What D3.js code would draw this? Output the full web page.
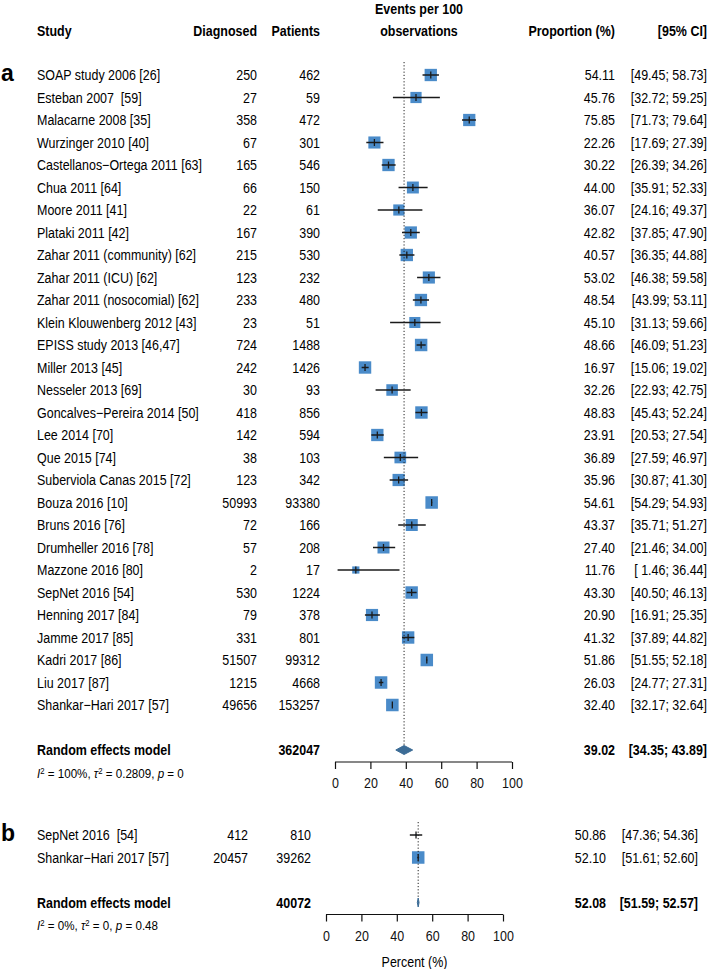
<!DOCTYPE html>
<html>
<head>
<meta charset="utf-8">
<script src="https://cdn.jsdelivr.net/npm/d3@7"></script>
<style>
  body { margin: 0; background: #fff; }
  svg { display: block; font-family: "Liberation Sans", Arial, sans-serif; }
</style>
</head>
<body>
<svg></svg>
<script>
var width = 709;
var height = 969;

// panel a data
var studiesA = ["SOAP study 2006 [26]", "Esteban 2007  [59]", "Malacarne 2008 [35]", "Wurzinger 2010 [40]",
  "Castellanos\u2212Ortega 2011 [63]", "Chua 2011 [64]", "Moore 2011 [41]", "Plataki 2011 [42]",
  "Zahar 2011 (community) [62]", "Zahar 2011 (ICU) [62]", "Zahar 2011 (nosocomial) [62]",
  "Klein Klouwenberg 2012 [43]", "EPISS study 2013 [46,47]", "Miller 2013 [45]", "Nesseler 2013 [69]",
  "Goncalves\u2212Pereira 2014 [50]", "Lee 2014 [70]", "Que 2015 [74]", "Suberviola Canas 2015 [72]",
  "Bouza 2016 [10]", "Bruns 2016 [76]", "Drumheller 2016 [78]", "Mazzone 2016 [80]", "SepNet 2016 [54]",
  "Henning 2017 [84]", "Jamme 2017 [85]", "Kadri 2017 [86]", "Liu 2017 [87]", "Shankar\u2212Hari 2017 [57]"];
var diagnosedA = [250, 27, 358, 67, 165, 66, 22, 167, 215, 123, 233, 23, 724, 242, 30, 418, 142, 38, 123,
  50993, 72, 57, 2, 530, 79, 331, 51507, 1215, 49656];
var patientsA = [462, 59, 472, 301, 546, 150, 61, 390, 530, 232, 480, 51, 1488, 1426, 93, 856, 594, 103, 342,
  93380, 166, 208, 17, 1224, 378, 801, 99312, 4668, 153257];
var propA = [54.11, 45.76, 75.85, 22.26, 30.22, 44.00, 36.07, 42.82, 40.57, 53.02, 48.54, 45.10, 48.66, 16.97,
  32.26, 48.83, 23.91, 36.89, 35.96, 54.61, 43.37, 27.40, 11.76, 43.30, 20.90, 41.32, 51.86, 26.03, 32.40];
var lowerA = [49.45, 32.72, 71.73, 17.69, 26.39, 35.91, 24.16, 37.85, 36.35, 46.38, 43.99, 31.13, 46.09, 15.06,
  22.93, 45.43, 20.53, 27.59, 30.87, 54.29, 35.71, 21.46, 1.46, 40.50, 16.91, 37.89, 51.55, 24.77, 32.17];
var upperA = [58.73, 59.25, 79.64, 27.39, 34.26, 52.33, 49.37, 47.90, 44.88, 59.58, 53.11, 59.66, 51.23, 19.02,
  42.75, 52.24, 27.54, 46.97, 41.30, 54.93, 51.27, 34.00, 36.44, 46.13, 25.35, 44.82, 52.18, 27.31, 32.64];
var pooledA = { patients: 362047, prop: 39.02, lower: 34.35, upper: 43.89 };
var hetA = { i2: "100%", tau2: 0.2809, tau2Text: "0.2809", p: "0" };

// panel b data
var studiesB = ["SepNet 2016  [54]", "Shankar\u2212Hari 2017 [57]"];
var diagnosedB = [412, 20457];
var patientsB = [810, 39262];
var propB = [50.86, 52.10];
var lowerB = [47.36, 51.61];
var upperB = [54.36, 52.60];
var pooledB = { patients: 40072, prop: 52.08, lower: 51.59, upper: 52.57 };
var hetB = { i2: "0%", tau2: 0, tau2Text: "0", p: "0.48" };

var tickValues = [0, 20, 40, 60, 80, 100];

var boxColor = "#4a8bc9";
var diamondColor = "#3c6c96";
var fs = 14.5;
var sx = 0.86; // no narrow font installed -> squeeze glyphs
var rowStep = 22.5;

var svg = d3.select("svg").attr("width", width).attr("height", height);
svg.append("rect").attr("width", width).attr("height", height).attr("fill", "#fff");

function pad(v) {
  var s = v.toFixed(2);
  return (s.length < 5 ? " " : "") + s;
}
function ciText(lo, hi) { return "[" + pad(lo) + "; " + pad(hi) + "]"; }
function place(x, y) { return "translate(" + x + "," + y + ") scale(" + sx + ",1)"; }

// narrow text at (x, y)
function label(parent, x, y, str, anchor) {
  return parent.append("text")
    .attr("transform", place(x, y))
    .attr("dy", "0.35em")
    .attr("text-anchor", anchor || "start")
    .attr("xml:space", "preserve")
    .text(str);
}

// header
var head = svg.append("g").attr("font-weight", "bold").attr("font-size", fs);
label(head, 37, 31, "Study");
label(head, 257, 31, "Diagnosed", "end");
label(head, 320, 31, "Patients", "end");
label(head, 419, 9, "Events per 100", "middle");
label(head, 419, 31, "observations", "middle");
label(head, 615, 31, "Proportion (%)", "end");
label(head, 707, 31, "[95% CI]", "end");

function drawPanel(p) {
  var g = svg.append("g").attr("font-size", fs);
  var n = p.studies.length;

  var x = d3.scaleLinear().domain([0, 100]).range([p.x0, p.x1]);
  var y = d3.scaleLinear().domain([0, n - 1]).range([p.top, p.top + (n - 1) * rowStep]);
  var yPool = y(n + 1);

  // random effects weights (logit scale) for the box sizes
  var w = p.diag.map(function(d, i) {
    var v = 1 / d + 1 / (p.pat[i] - d);
    return 1 / (v + p.het.tau2);
  });
  var size = d3.scaleSqrt().domain([0, d3.max(w)]).range([0, 12.5]);

  // panel letter
  label(g, 1, y(0) - 2, p.label).attr("font-size", 23).attr("font-weight", "bold")
    .attr("transform", "translate(1," + (y(0) - 2) + ")");

  var rows = g.selectAll(".row").data(d3.range(n)).enter().append("g").attr("class", "row");
  var cols = [
    { x: 37, anchor: "start", f: function(i) { return p.studies[i]; } },
    { x: 257 + p.shift, anchor: "end", f: function(i) { return p.diag[i]; } },
    { x: 320 + p.shift, anchor: "end", f: function(i) { return p.pat[i]; } },
    { x: 615 + p.shift, anchor: "end", f: function(i) { return p.prop[i].toFixed(2); } },
    { x: 707 + p.shift, anchor: "end", f: function(i) { return ciText(p.lo[i], p.hi[i]); } }
  ];
  cols.forEach(function(c) {
    rows.append("text")
      .attr("transform", function(i) { return place(c.x, y(i)); })
      .attr("dy", "0.35em")
      .attr("text-anchor", c.anchor)
      .attr("xml:space", "preserve")
      .text(c.f);
  });

  // dotted line at pooled estimate
  g.append("line")
    .attr("x1", x(p.pooled.prop)).attr("x2", x(p.pooled.prop))
    .attr("y1", y(0) - 13).attr("y2", yPool - 5)
    .attr("stroke", "#222").attr("stroke-width", 1).attr("stroke-dasharray", "1.2,2");

  // boxes
  rows.append("rect")
    .attr("x", function(i) { return x(p.prop[i]) - size(w[i]) / 2; })
    .attr("y", function(i) { return y(i) - size(w[i]) / 2; })
    .attr("width", function(i) { return size(w[i]); })
    .attr("height", function(i) { return size(w[i]); })
    .attr("fill", boxColor);

  // CI lines
  rows.append("line")
    .attr("x1", function(i) { return x(p.lo[i]); })
    .attr("x2", function(i) { return x(p.hi[i]); })
    .attr("y1", function(i) { return y(i); })
    .attr("y2", function(i) { return y(i); })
    .attr("stroke", "#1a1a1a").attr("stroke-width", 1.5);
  rows.append("line")
    .attr("x1", function(i) { return x(p.prop[i]); })
    .attr("x2", function(i) { return x(p.prop[i]); })
    .attr("y1", function(i) { return y(i) - 3.5; })
    .attr("y2", function(i) { return y(i) + 3.5; })
    .attr("stroke", "#1a1a1a").attr("stroke-width", 1.3);

  // pooled row
  var pool = g.append("g").attr("font-weight", "bold");
  label(pool, 37, yPool, "Random effects model");
  label(pool, 320 + p.shift, yPool, p.pooled.patients, "end");
  label(pool, 615 + p.shift, yPool, p.pooled.prop.toFixed(2), "end");
  label(pool, 707 + p.shift, yPool, ciText(p.pooled.lower, p.pooled.upper), "end");

  g.append("path")
    .attr("d", "M" + x(p.pooled.lower) + "," + yPool +
      "L" + x(p.pooled.prop) + "," + (yPool - 4.5) +
      "L" + x(p.pooled.upper) + "," + yPool +
      "L" + x(p.pooled.prop) + "," + (yPool + 4.5) + "Z")
    .attr("fill", diamondColor).attr("stroke", diamondColor).attr("stroke-width", 1);

  // heterogeneity
  var het = label(g, 37, yPool + 23, "").attr("font-size", 13.5);
  het.append("tspan").attr("font-style", "italic").text("I");
  het.append("tspan").attr("font-size", 9).attr("dy", "-0.45em").text("2");
  het.append("tspan").attr("dy", "0.3em").text(" = " + p.het.i2 + ", ");
  het.append("tspan").attr("font-style", "italic").text("\u03c4");
  het.append("tspan").attr("font-size", 9).attr("dy", "-0.45em").text("2");
  het.append("tspan").attr("dy", "0.3em").text(" = " + p.het.tau2Text + ", ");
  het.append("tspan").attr("font-style", "italic").text("p");
  het.append("tspan").text(" = " + p.het.p);

  // axis
  var axisY = yPool + 12;
  var ax = g.append("g").attr("transform", "translate(0," + axisY + ")")
    .call(d3.axisBottom(x).tickValues(tickValues).tickSize(7).tickPadding(9).tickFormat(d3.format("d")));
  ax.attr("font-family", null).attr("font-size", fs);
  ax.select(".domain").attr("d", "M" + p.x0 + ",0H" + p.x1).attr("stroke", "#111").attr("stroke-width", 1.2);
  ax.selectAll(".tick line").attr("stroke", "#111").attr("stroke-width", 1.2);
  ax.selectAll(".tick text").attr("fill", "#111").attr("transform", "scale(" + sx + ",1)");

  if (p.xlabel) {
    label(g, (p.x0 + p.x1) / 2, axisY + 47, p.xlabel, "middle");
  }
}

drawPanel({ label: "a", studies: studiesA, diag: diagnosedA, pat: patientsA, prop: propA, lo: lowerA, hi: upperA,
  pooled: pooledA, het: hetA, x0: 335, x1: 512, shift: 0, top: 75 });
drawPanel({ label: "b", studies: studiesB, diag: diagnosedB, pat: patientsB, prop: propB, lo: lowerB, hi: upperB,
  pooled: pooledB, het: hetB, x0: 326, x1: 503, shift: -9, top: 835, xlabel: "Percent (%)" });
</script>
</body>
</html>
